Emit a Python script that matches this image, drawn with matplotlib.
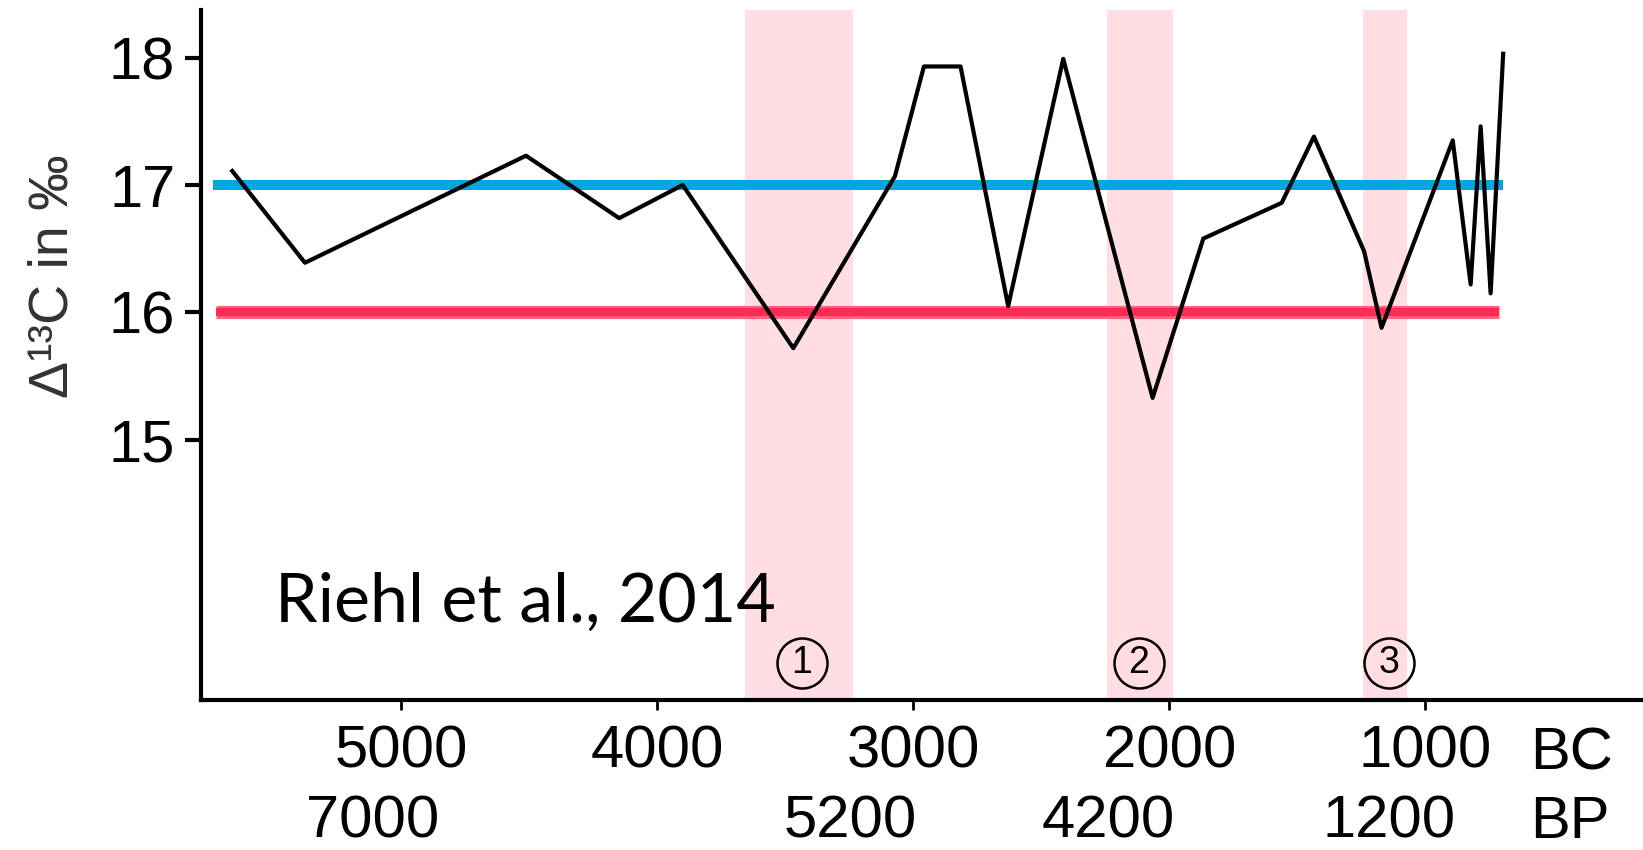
import matplotlib
matplotlib.use("Agg")
import matplotlib.pyplot as plt
import matplotlib.transforms as mtransforms

plt.rcParams['font.family'] = ['Liberation Sans', 'DejaVu Sans']

# delta 13C record, years BC
years = [5659, 5375, 4512, 4148, 3900, 3468, 3071, 2958, 2815, 2629, 2414,
         2065, 1867, 1561, 1435, 1239, 1171, 893, 823, 784, 745, 696]
d13c = [17.11, 16.39, 17.23, 16.74, 17.00, 15.72, 17.07, 17.93, 17.93, 16.05,
        17.99, 15.33, 16.58, 16.86, 17.38, 16.48, 15.88, 17.35, 16.22, 17.46,
        16.15, 18.03]

# reference levels
blue_level = 17
blue_span = (5734, 697)
red_level = 16
red_span = (5722, 713)

# dry events (shaded) and their numbers
band_start = [3657, 2243, 1244]
band_end = [3235, 1986, 1072]
band_labels = ['1', '2', '3']
band_label_x = [3434, 2118, 1142]

bc_ticks = [5000, 4000, 3000, 2000, 1000]
bc_labels = ['5000', '4000', '3000', '2000', '1000']
bp_labels = ['7000', '5200', '4200', '1200']
bp_label_x = [5109, 3247, 2239, 1142]
y_ticks = [15, 16, 17, 18]

fig = plt.figure(figsize=(16.43, 8.5), dpi=100)
ax = fig.add_axes([201 / 1643, 150 / 850, 1442 / 1643, 690 / 850])
ax.set_xlim(5781, 150)
ax.set_ylim(12.96, 18.373)

for a, b in zip(band_start, band_end):
    ax.axvspan(a, b, color='#ffdde2', lw=0, zorder=0)

ax.plot(blue_span, [blue_level, blue_level], color='#00a8de', lw=7.2,
        solid_capstyle='butt', zorder=1)
ax.plot(red_span, [red_level, red_level], color='#ff6680', lw=9.5,
        solid_capstyle='butt', zorder=1)
ax.plot(red_span, [red_level, red_level], color='#ff2a55', lw=6,
        solid_capstyle='butt', zorder=1)

ax.plot(years, d13c, color='black', lw=3, zorder=3)

trans = mtransforms.blended_transform_factory(ax.transData, ax.transAxes)
for x, lab in zip(band_label_x, band_labels):
    ax.plot(x, 0.0536, marker='o', ms=36, mfc='none', mec='black', mew=1.8,
            transform=trans, clip_on=False, zorder=4)
    ax.text(x, 0.0536, lab, transform=trans, ha='center', va='center',
            fontsize=27, zorder=4)

ax.text(0.0513, 0.113, 'Riehl et al., 2014', transform=ax.transAxes,
        ha='left', va='baseline', fontsize=49, family='Lato')

# axes styling
for s in ['top', 'right']:
    ax.spines[s].set_visible(False)
for s in ['left', 'bottom']:
    ax.spines[s].set_linewidth(3)

ax.set_yticks(y_ticks)
ax.set_xticks(bc_ticks)
ax.set_xticklabels(bc_labels)
ax.tick_params(axis='y', length=11.5, width=3, pad=7, labelsize=43)
ax.tick_params(axis='x', length=7, width=2, pad=11, labelsize=43)

ax.text(592, -0.1014, 'BC', transform=trans, ha='left', va='baseline',
        fontsize=43, clip_on=False)
ax.text(592, -0.2, 'BP', transform=trans, ha='left', va='baseline',
        fontsize=43, clip_on=False)
for x, lab in zip(bp_label_x, bp_labels):
    ax.text(x, -0.2, lab, transform=trans, ha='center', va='baseline',
            fontsize=43, clip_on=False)

ax.text(-0.1026, 0.6145, 'Δ¹³C in ‰', transform=ax.transAxes, rotation=90,
        ha='center', va='center', fontsize=40, color='#333333')

fig.savefig('out.png', dpi=100)
